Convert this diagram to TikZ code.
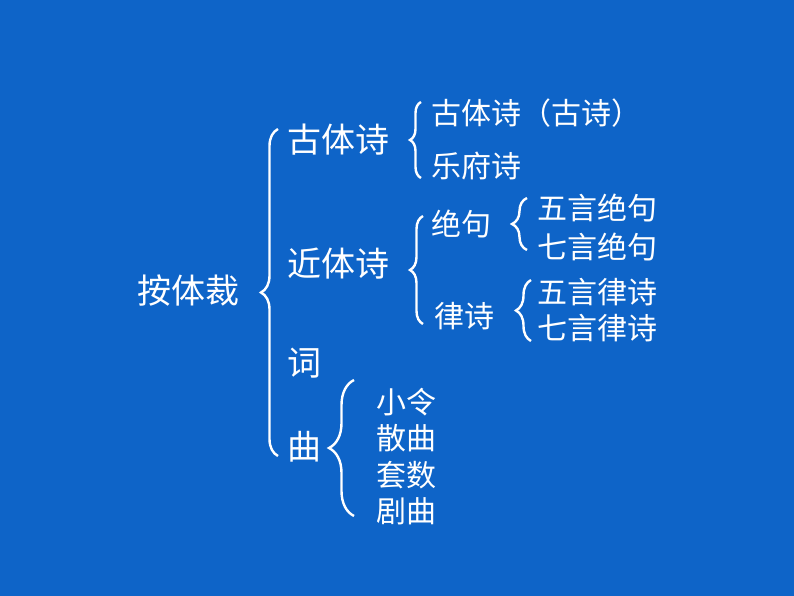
\documentclass[tikz,border=0pt]{standalone}
\usepackage{fontspec}
\setmainfont{Noto Sans CJK SC}
\usetikzlibrary{decorations.pathreplacing}
\definecolor{bg}{RGB}{14,100,200}
\tikzset{
  big/.style={text=white,inner sep=0pt,anchor=west,font=\fontsize{34}{40}\selectfont},
  small/.style={text=white,inner sep=0pt,anchor=west,font=\fontsize{30}{36}\selectfont},
  brc/.style={draw=white,line width=2.4pt,decorate,decoration={brace,amplitude=#1}},
}
\begin{document}
\begin{tikzpicture}[x=1pt,y=-1pt]
\fill[bg] (0,0) rectangle (794,596);
\useasboundingbox (0,0) rectangle (794,596);
% level 1
\node[big] (root) at (137,291) {按体裁};
% level 2
\node[big] (gu) at (287,140) {古体诗};
\node[big] (jin) at (287,264) {近体诗};
\node[big] (ci) at (287,363) {词};
\node[big] (qu) at (287,447) {曲};
% level 3
\node[small] (gs) at (431,113) {古体诗（古诗）};
\node[small] (yf) at (431,166) {乐府诗};
\node[small] (jj) at (431,224) {绝句};
\node[small] (ls) at (434,316) {律诗};
\node[small] (xl) at (376,402) {小令};
\node[small] (sq) at (376,438) {散曲};
\node[small] (ts) at (376,475) {套数};
\node[small] (jq) at (376,511) {剧曲};
% level 4
\node[small] (wj) at (537,208) {五言绝句};
\node[small] (qj) at (537,247) {七言绝句};
\node[small] (wl) at (537,292) {五言律诗};
\node[small] (ql) at (537,328) {七言律诗};
% brace endpoints
\coordinate (b1t) at (278,129); \coordinate (b1b) at (278,456);
\coordinate (b2t) at (421,102); \coordinate (b2b) at (421,178);
\coordinate (b3t) at (423,216); \coordinate (b3b) at (423,324);
\coordinate (b4t) at (527,198); \coordinate (b4b) at (527,250);
\coordinate (b5t) at (531,280); \coordinate (b5b) at (531,341);
\coordinate (b6t) at (354,380); \coordinate (b6b) at (354,516);
\draw[brc=17pt] (b1b) -- (b1t);
\draw[brc=11pt] (b2b) -- (b2t);
\draw[brc=13pt] (b3b) -- (b3t);
\draw[brc=15pt] (b4b) -- (b4t);
\draw[brc=15pt] (b5b) -- (b5t);
\draw[brc=25pt] (b6b) -- (b6t);
\end{tikzpicture}
\end{document}
